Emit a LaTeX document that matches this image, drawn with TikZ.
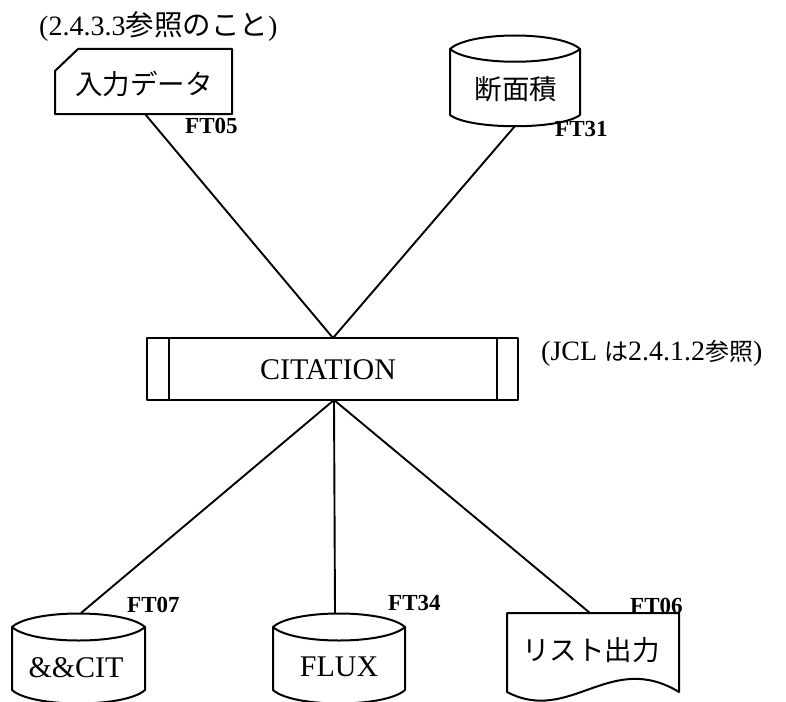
\documentclass[tikz,border=0pt]{standalone}
\usepackage{fontspec}
\setmainfont{Liberation Serif}
\newfontfamily\jp{Noto Sans CJK JP}
\begin{document}
\begin{tikzpicture}[x=1pt,y=-1pt,
  shp/.style={draw=black,line width=2pt,line join=round},
  conn/.style={draw=black,line width=1.9pt},
  big/.style={inner sep=0pt,font=\fontsize{30}{34}\selectfont},
  bigjp/.style={inner sep=0pt,font=\fontsize{27.5}{32}\selectfont\jp},
  ftlab/.style={inner sep=0pt,font=\fontsize{23}{26}\selectfont\bfseries},
  note/.style={inner sep=0pt,font=\fontsize{28}{32}\selectfont}]
\useasboundingbox (0,0) rectangle (786,701);

% notes
\node[note,anchor=west] (n1) at (39,27) {(2.4.3.3{\jp\fontsize{28.5}{32}\selectfont 参照のこと})};
\node[note,anchor=west] (n2) at (541,353) {(JCL {\jp\fontsize{24}{30}\selectfont は}2.4.1.2{\jp\fontsize{24}{30}\selectfont 参照})};

% input card
\draw[shp] (55,71) -- (78,49) -- (232,49) -- (232,114) -- (55,114) -- cycle;
\node[bigjp] (inp) at (144,84) {入力データ};
\node[ftlab,anchor=west] (ft05) at (185,126) {FT05};
\coordinate (inpB) at (145,114);

% cross-section cylinder
\draw[shp] (450,49) .. controls (470,31) and (560,31) .. (580,49)
  -- (580,115) .. controls (560,130) and (470,130) .. (450,115) -- cycle;
\draw[shp] (450,49) .. controls (470,66) and (560,66) .. (580,49);
\node[bigjp] (dan) at (516,89) {断面積};
\node[ftlab,anchor=west] (ft31) at (555,129) {FT31};
\coordinate (danB) at (515,126);

% program box
\draw[shp] (147,338) rectangle (518,400);
\draw[shp] (169,338) -- (169,400);
\draw[shp] (497,338) -- (497,400);
\node[big] (cit) at (328,370) {CITATION};
\coordinate (citT) at (333,338);
\coordinate (citB) at (334,400);

% &&CIT cylinder
\draw[shp] (12,627) .. controls (32,609) and (125,609) .. (145,627)
  -- (145,690) .. controls (125,708) and (32,708) .. (12,690) -- cycle;
\draw[shp] (12,627) .. controls (32,645) and (125,645) .. (145,627);
\node[big] (cit2) at (76,668) {\&\&CIT};
\node[ftlab,anchor=west] (ft07) at (127,605) {FT07};
\coordinate (citD) at (81,613);

% FLUX cylinder
\draw[shp] (273,627) .. controls (293,609) and (385,609) .. (405,627)
  -- (405,690) .. controls (385,708) and (293,708) .. (273,690) -- cycle;
\draw[shp] (273,627) .. controls (293,645) and (385,645) .. (405,627);
\node[big] (flux) at (339,667) {FLUX};
\node[ftlab,anchor=west] (ft34) at (388,603) {FT34};
\coordinate (fluxT) at (335,613);

% list output document
\draw[shp] (507,613) -- (679,613) -- (679,692)
  .. controls (610,650) and (570,725) .. (507,692) -- cycle;
\node[bigjp] (lst) at (591,650) {リスト出力};
\node[ftlab,anchor=west] (ft06) at (630,606) {FT06};
\coordinate (lstT) at (590,613);

% connectors
\draw[conn] (inpB) -- (citT);
\draw[conn] (danB) -- (citT);
\draw[conn] (citB) -- (citD);
\draw[conn] (citB) -- (fluxT);
\draw[conn] (citB) -- (lstT);
\end{tikzpicture}
\end{document}
